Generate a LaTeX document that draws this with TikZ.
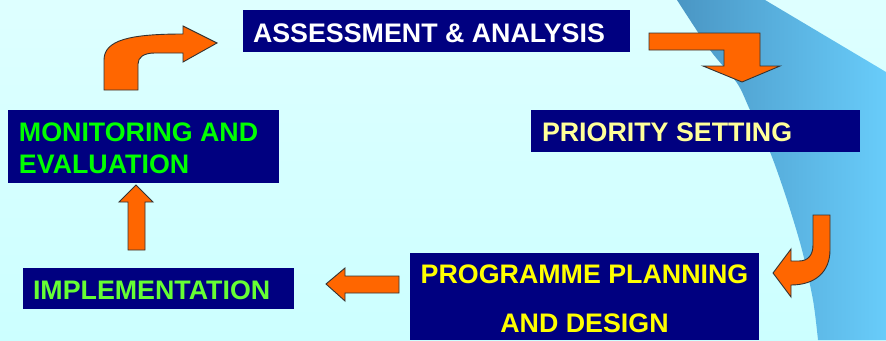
\documentclass[tikz,border=0pt]{standalone}
\usepackage{fontspec}
\setmainfont{Liberation Sans}
\definecolor{bgtop}{HTML}{DEFFFF}
\definecolor{bgbot}{HTML}{CCFFFF}
\definecolor{swl}{HTML}{4A96C4}
\definecolor{swr}{HTML}{68CCFA}
\definecolor{navy}{HTML}{000080}
\definecolor{orng}{HTML}{FF6600}
\definecolor{outl}{HTML}{333333}
\definecolor{ltyel}{HTML}{FFFF99}
\definecolor{grn}{HTML}{00FF00}
\definecolor{ltgrn}{HTML}{66FF33}
\definecolor{yel}{HTML}{FFFF00}
\tikzset{
  box/.style={fill=navy, draw=none, inner sep=0pt, outer sep=0pt, anchor=north west},
  lbl/.style={inner sep=0pt, outer sep=0pt, font=\fontsize{26.8}{32}\selectfont\bfseries},
  barrow/.style={fill=orng, draw=outl, line width=0.9pt, line join=miter}
}
\begin{document}
\begin{tikzpicture}[x=1pt,y=-1pt]
\useasboundingbox (0,0) rectangle (886,340);
% background
\shade[top color=bgtop, bottom color=bgbot] (0,0) rectangle (886,340);
% blue swoosh
\shade[left color=swl, right color=swr]
  (677,0) -- (765,0) -- (886,72) -- (886,340) -- (818,340)
  -- plot[smooth] coordinates {(818,340) (813,300) (802,250) (787,200) (770,152) (750,110) (737,83) (710,50) (677,0)}
  -- cycle;
% boxes
\node[box, minimum width=387pt, minimum height=42pt] (assess) at (243,10) {};
\node[box, minimum width=329pt, minimum height=42pt] (prio) at (531,110) {};
\node[box, minimum width=271pt, minimum height=73pt] (monit) at (8,110) {};
\node[box, minimum width=271pt, minimum height=41pt] (impl) at (23,268) {};
\node[box, minimum width=349pt, minimum height=87pt] (plan) at (410,253) {};
% labels
\node[lbl, text=white, anchor=base west] (assessT) at (253,42) {ASSESSMENT \& ANALYSIS};
\node[lbl, text=ltyel, anchor=base west] (prioT) at (542,141) {PRIORITY SETTING};
\node[lbl, text=grn, anchor=base west] (monitT1) at (19,141) {MONITORING AND};
\node[lbl, text=grn, anchor=base west] (monitT2) at (19,173) {EVALUATION};
\node[lbl, text=ltgrn, anchor=base west] (implT) at (33,299) {IMPLEMENTATION};
\node[lbl, text=yel, anchor=base] (planT1) at (584.5,283) {PROGRAMME PLANNING};
\node[lbl, text=yel, anchor=base] (planT2) at (584.5,332) {AND DESIGN};
% block arrows
% monitoring -> assessment (bent up-right)
\draw[barrow] (104,90) -- (104,60) .. controls (104,40) and (130,34) .. (183,34)
  -- (183,26) -- (217,43) -- (183,62) -- (183,53) -- (155,53)
  .. controls (144,53) and (138,57) .. (138,64) -- (138,90) -- cycle;
% assessment -> priority (bent right-down)
\draw[barrow] (649,33) -- (760,33) -- (760,66) -- (780,66) -- (742,82) -- (703,66)
  -- (724,66) -- (724,50) -- (649,50) -- cycle;
% priority -> planning (J shape)
\draw[barrow] (813,215) -- (830,215) -- (830,250) .. controls (830,272) and (815,285) .. (791,285)
  -- (791,297) -- (773,273) -- (791,249) -- (791,261) -- (799,261)
  .. controls (808,261) and (813,255) .. (813,245) -- cycle;
% planning -> implementation (left)
\draw[barrow] (399,276) -- (345,276) -- (345,268) -- (326,284) -- (345,301) -- (345,293) -- (399,293) -- cycle;
% implementation -> monitoring (up)
\draw[barrow] (128,250) -- (128,202) -- (119,202) -- (136,185) -- (153,202) -- (145,202) -- (145,250) -- cycle;
\end{tikzpicture}
\end{document}
